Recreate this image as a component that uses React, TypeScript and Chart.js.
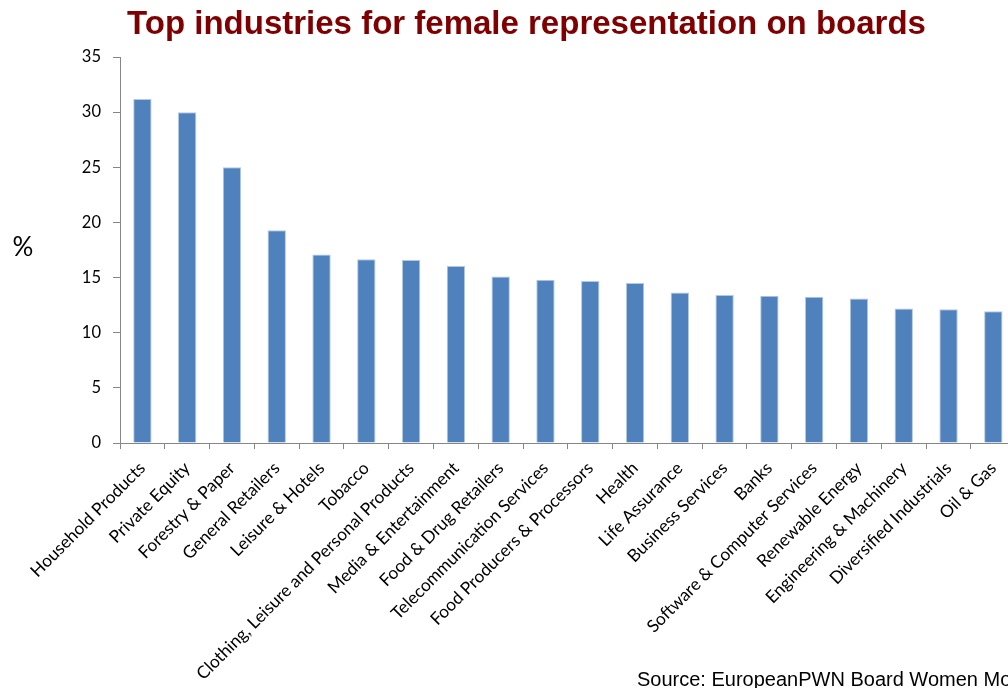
import React, { useEffect, useRef } from "react";
import { Chart, registerables } from "chart.js";

Chart.register(...registerables);

const categories = [
  "Household Products",
  "Private Equity",
  "Forestry & Paper",
  "General Retailers",
  "Leisure & Hotels",
  "Tobacco",
  "Clothing, Leisure and Personal Products",
  "Media & Entertainment",
  "Food & Drug Retailers",
  "Telecommunication Services",
  "Food Producers & Processors",
  "Health",
  "Life Assurance",
  "Business Services",
  "Banks",
  "Software & Computer Services",
  "Renewable Energy",
  "Engineering & Machinery",
  "Diversified Industrials",
  "Oil & Gas",
];

const values = [
  31.2, 30.0, 25.0, 19.3, 17.1, 16.65, 16.6, 16.05, 15.1, 14.8,
  14.7, 14.5, 13.65, 13.42, 13.35, 13.25, 13.1, 12.2, 12.12, 11.95,
];

const yMin = 0;
const yMax = 35;
const yStep = 5;

const titleText = "Top industries for female representation on boards";
const unitText = "%";
const sourceText = "Source: EuropeanPWN Board Women Monitor";

const LABEL_FONT = "Lato, 'Open Sans', sans-serif";

const extraText = {
  id: "extraText",
  afterDraw(chart: any) {
    const ctx = chart.ctx;
    ctx.save();
    ctx.textBaseline = "alphabetic";
    ctx.fillStyle = "#7F0000";
    ctx.font = "bold 33px 'Liberation Sans', Arial, sans-serif";
    ctx.textAlign = "center";
    ctx.fillText(titleText, 526.5, 34);

    ctx.fillStyle = "#000000";
    ctx.font = "26px " + LABEL_FONT;
    ctx.textAlign = "center";
    ctx.textBaseline = "middle";
    ctx.fillText(unitText, 23, 248);

    ctx.textBaseline = "alphabetic";
    ctx.textAlign = "left";
    ctx.font = "20px 'Liberation Sans', Arial, sans-serif";
    ctx.fillText(sourceText, 637, 686);
    ctx.restore();
  },
};

export default function App() {
  const canvasRef = useRef<HTMLCanvasElement | null>(null);

  useEffect(() => {
    const canvas = canvasRef.current;
    if (!canvas) return;
    const chart = new Chart(canvas, {
      type: "bar",
      data: {
        labels: categories,
        datasets: [
          {
            data: values,
            backgroundColor: "#4F81BD",
            borderColor: "#B3C8E2",
            borderWidth: 1,
            borderSkipped: "bottom",
            barPercentage: 0.41,
            categoryPercentage: 1,
          },
        ],
      },
      options: {
        responsive: false,
        animation: false,
        devicePixelRatio: 1,
        layout: { padding: { top: 57, left: 0, right: 0, bottom: 0 } },
        plugins: {
          legend: { display: false },
          title: { display: false },
          tooltip: { enabled: false },
        },
        scales: {
          x: {
            ticks: {
              autoSkip: false,
              minRotation: 45,
              maxRotation: 45,
              color: "#000000",
              padding: 9,
              font: { family: LABEL_FONT, size: 17.3 },
            },
            grid: {
              drawOnChartArea: false,
              drawTicks: true,
              tickLength: 6,
              color: "#868686",
              offset: true,
            },
            border: { color: "#868686", width: 1 },
            afterFit: (s: any) => {
              s.height = 245;
            },
          },
          y: {
            min: yMin,
            max: yMax,
            ticks: {
              stepSize: yStep,
              color: "#000000",
              padding: 12,
              font: { family: LABEL_FONT, size: 16.5 },
            },
            grid: {
              drawOnChartArea: false,
              drawTicks: true,
              tickLength: 7,
              color: "#868686",
            },
            border: { color: "#868686", width: 1 },
            afterFit: (s: any) => {
              s.width = 120;
            },
          },
        },
      },
      plugins: [extraText],
    });
    return () => chart.destroy();
  }, []);

  return (
    <div
      style={{
        position: "fixed",
        left: 0,
        top: 0,
        width: 1008,
        height: 688,
        overflow: "hidden",
        background: "#ffffff",
      }}
    >
      <canvas ref={canvasRef} width={1017} height={688} style={{ display: "block" }} />
    </div>
  );
}
